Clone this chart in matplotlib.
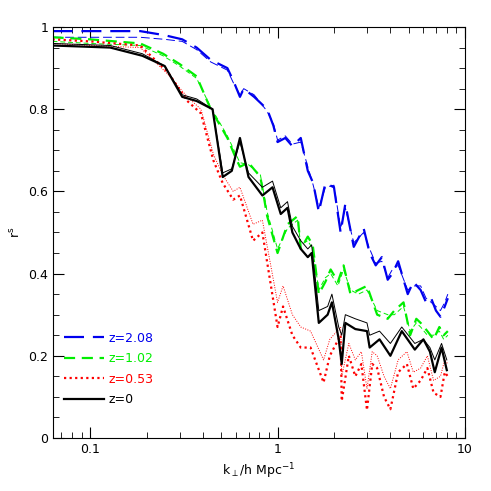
import matplotlib
matplotlib.use("Agg")
import matplotlib.pyplot as plt
from matplotlib.ticker import FixedLocator, MultipleLocator, LogLocator, NullFormatter

# ---- data ----
k_blue = [0.063, 0.1, 0.185, 0.25, 0.31, 0.37, 0.44, 0.54, 0.58, 0.63,
          0.66, 0.75, 0.88, 0.95, 1.0, 1.1, 1.2, 1.33, 1.45, 1.55,
          1.66, 1.8, 2.0, 2.17, 2.3, 2.55, 2.88, 3.1, 3.34, 3.6,
          3.87, 4.1, 4.4, 4.95, 5.3, 5.8, 6.2, 6.6, 7.0, 7.4, 7.8, 8.1]
r_blue = [0.99, 0.99, 0.99, 0.98, 0.97, 0.95, 0.92, 0.90, 0.87, 0.83,
          0.85, 0.83, 0.80, 0.76, 0.72, 0.73, 0.71, 0.73, 0.65, 0.62,
          0.55, 0.62, 0.61, 0.50, 0.57, 0.465, 0.51, 0.45, 0.42, 0.44,
          0.385, 0.40, 0.43, 0.35, 0.38, 0.36, 0.33, 0.34, 0.31, 0.295, 0.32, 0.34]
r_blue_thin = [0.975, 0.975, 0.975, 0.97, 0.965, 0.945, 0.915, 0.895, 0.865, 0.835,
               0.85, 0.835, 0.795, 0.765, 0.725, 0.735, 0.715, 0.72, 0.66, 0.615,
               0.56, 0.61, 0.615, 0.51, 0.56, 0.475, 0.50, 0.46, 0.425, 0.43,
               0.39, 0.41, 0.42, 0.36, 0.37, 0.37, 0.34, 0.33, 0.32, 0.31, 0.33, 0.35]

k_green = [0.063, 0.1, 0.185, 0.245, 0.3, 0.37, 0.44, 0.54, 0.6, 0.63,
           0.7, 0.81, 0.88, 1.0, 1.13, 1.28, 1.33, 1.45, 1.54, 1.66,
           1.8, 1.92, 2.1, 2.25, 2.45, 2.7, 3.0, 3.4, 3.87, 4.2,
           4.7, 5.1, 5.5, 5.8, 6.3, 6.8, 7.3, 7.7, 8.1]
r_green = [0.975, 0.97, 0.96, 0.935, 0.91, 0.88, 0.80, 0.73, 0.68, 0.66,
           0.67, 0.635, 0.54, 0.45, 0.52, 0.54, 0.46, 0.49, 0.47, 0.35,
           0.38, 0.41, 0.38, 0.42, 0.35, 0.36, 0.37, 0.30, 0.29, 0.31,
           0.33, 0.25, 0.29, 0.28, 0.26, 0.24, 0.27, 0.25, 0.26]
r_green_thin = [0.965, 0.96, 0.955, 0.93, 0.905, 0.875, 0.805, 0.735, 0.69, 0.67,
                0.665, 0.64, 0.55, 0.46, 0.51, 0.53, 0.47, 0.48, 0.46, 0.36,
                0.39, 0.40, 0.37, 0.41, 0.36, 0.35, 0.36, 0.31, 0.30, 0.30,
                0.32, 0.26, 0.28, 0.27, 0.25, 0.25, 0.26, 0.24, 0.25]

k_red = [0.063, 0.1, 0.185, 0.26, 0.33, 0.39, 0.455, 0.51, 0.58, 0.63,
         0.74, 0.83, 1.0, 1.07, 1.2, 1.33, 1.5, 1.76, 1.9, 2.17,
         2.2, 2.4, 2.6, 2.8, 3.0, 3.2, 3.4, 3.7, 4.0, 4.4,
         4.9, 5.3, 5.8, 6.3, 6.8, 7.4, 7.8, 8.1]
r_red = [0.97, 0.965, 0.955, 0.89, 0.82, 0.79, 0.675, 0.62, 0.58, 0.59,
         0.48, 0.50, 0.27, 0.32, 0.25, 0.22, 0.22, 0.135, 0.20, 0.25,
         0.09, 0.20, 0.15, 0.18, 0.068, 0.18, 0.17, 0.10, 0.07, 0.16,
         0.18, 0.12, 0.14, 0.17, 0.11, 0.10, 0.16, 0.15]
r_red_thin = [0.96, 0.955, 0.95, 0.885, 0.83, 0.80, 0.69, 0.64, 0.60, 0.61,
              0.52, 0.53, 0.33, 0.37, 0.30, 0.27, 0.26, 0.19, 0.24, 0.27,
              0.15, 0.23, 0.19, 0.21, 0.12, 0.21, 0.20, 0.15, 0.12, 0.19,
              0.21, 0.16, 0.17, 0.20, 0.14, 0.15, 0.19, 0.18]

k_black = [0.063, 0.128, 0.19, 0.25, 0.31, 0.37, 0.45, 0.51, 0.57, 0.63,
           0.70, 0.83, 0.94, 1.04, 1.13, 1.2, 1.33, 1.45, 1.52, 1.66,
           1.85, 1.95, 2.12, 2.2, 2.3, 2.6, 3.0, 3.1, 3.5, 4.0,
           4.6, 5.4, 6.0, 6.5, 6.9, 7.5, 8.0]
r_black = [0.955, 0.95, 0.93, 0.905, 0.83, 0.82, 0.80, 0.635, 0.65, 0.73,
           0.635, 0.59, 0.61, 0.545, 0.56, 0.50, 0.46, 0.44, 0.45, 0.28,
           0.30, 0.33, 0.24, 0.18, 0.28, 0.265, 0.26, 0.22, 0.24, 0.20,
           0.26, 0.215, 0.24, 0.21, 0.16, 0.22, 0.165]
r_black_thin = [0.96, 0.955, 0.935, 0.905, 0.835, 0.825, 0.80, 0.645, 0.655, 0.72,
                0.645, 0.61, 0.625, 0.56, 0.575, 0.515, 0.48, 0.46, 0.47, 0.31,
                0.32, 0.35, 0.27, 0.25, 0.30, 0.29, 0.28, 0.25, 0.26, 0.23,
                0.27, 0.23, 0.24, 0.22, 0.19, 0.23, 0.19]

labels = ["z=2.08", "z=1.02", "z=0.53", "z=0"]

fig = plt.figure(figsize=(4.91, 4.91), dpi=100)
ax = fig.add_axes([0.108, 0.108, 0.839, 0.837])

series = [
    (k_blue, r_blue, r_blue_thin, "#0000ee", (0, (9, 4))),
    (k_green, r_green, r_green_thin, "#00ee00", (0, (5, 3))),
    (k_red, r_red, r_red_thin, "#ff0000", (0, (1, 1.5))),
    (k_black, r_black, r_black_thin, "black", "-"),
]
for (k, thick, thin, col, ls), lab in zip(series, labels):
    ax.plot(k, thin, color=col, ls=ls, lw=0.7)
    ax.plot(k, thick, color=col, ls=ls, lw=1.6, label=lab)

ax.set_xscale("log")
ax.set_xlim(0.0634, 10)
ax.set_ylim(0, 1)
ax.xaxis.set_major_locator(FixedLocator([0.1, 1, 10]))
ax.xaxis.set_minor_locator(LogLocator(base=10, subs=range(2, 10)))
ax.xaxis.set_minor_formatter(NullFormatter())
ax.set_xticklabels(["0.1", "1", "10"])
ax.yaxis.set_major_locator(MultipleLocator(0.2))
ax.yaxis.set_minor_locator(MultipleLocator(0.05))
ax.set_yticks([0, 0.2, 0.4, 0.6, 0.8, 1.0])
ax.set_yticklabels(["0", "0.2", "0.4", "0.6", "0.8", "1"])
ax.tick_params(which="both", direction="in", top=True, right=True, labelsize=9)
ax.tick_params(which="major", length=8)
ax.tick_params(which="minor", length=4)

ax.set_xlabel(r"k$_\perp$/h Mpc$^{-1}$", fontsize=9)
ax.set_ylabel(r"r$^{\rm s}$", fontsize=9)

ax.legend(loc="lower left", bbox_to_anchor=(0.0, 0.05), frameon=False,
          labelcolor="linecolor", handlelength=3.2, fontsize=9,
          labelspacing=0.6, handletextpad=0.3)

fig.savefig("out.png", dpi=100)
